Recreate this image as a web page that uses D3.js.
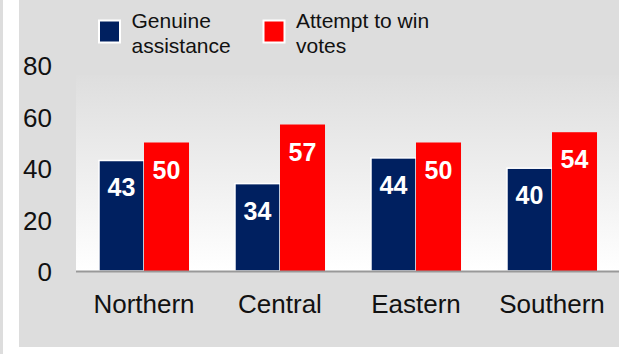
<!DOCTYPE html>
<html><head><meta charset="utf-8">
<script src="https://cdn.jsdelivr.net/npm/d3@7"></script>
<style>
html,body{margin:0;padding:0;background:#fff;}
svg{display:block;font-family:"Liberation Sans",Arial,sans-serif;}
</style></head>
<body>
<script>
const categories = ["Northern","Central","Eastern","Southern"];
const seriesNames = ["Genuine assistance","Attempt to win votes"];
const genuine = [43,34,44,40];
const attempt = [50,57,50,54];
const yTicks = [0,20,40,60,80];
const legendLines = [["Genuine","assistance"],["Attempt to win","votes"]];
const colors = ["#002060","#ff0000"];
</script>
<script>
const W = 619, H = 354;
const svg = d3.select("body").append("svg").attr("width", W).attr("height", H);

// backgrounds
svg.append("rect").attr("x",0).attr("y",0).attr("width",W).attr("height",H).attr("fill","#ffffff");
svg.append("rect").attr("x",0).attr("y",0).attr("width",3).attr("height",H).attr("fill","#dddddd");
svg.append("rect").attr("x",19).attr("y",0).attr("width",W-19).attr("height",347).attr("fill","#dddddd");

const defs = svg.append("defs");
const grad = defs.append("linearGradient").attr("id","pg").attr("x1",0).attr("y1",0).attr("x2",0).attr("y2",1);
grad.append("stop").attr("offset","0%").attr("stop-color","#dedede");
grad.append("stop").attr("offset","100%").attr("stop-color","#ffffff");

const x0 = 76, x1p = 620, yBase = 271;
const y = d3.scaleLinear().domain([0,80]).range([yBase, yBase - 80*2.57]);

svg.append("rect").attr("x",x0).attr("y",y(80)+10).attr("width",W-x0).attr("height",yBase-(y(80)+10)).attr("fill","url(#pg)");

const xb = d3.scaleBand().domain(categories).range([x0,x1p]).paddingInner(0.338).paddingOuter(0.169);
const xs = d3.scaleBand().domain([0,1]).range([0, xb.bandwidth()]);

const data = categories.map((c,i)=>({c, v:[genuine[i], attempt[i]]}));

const g = svg.append("g").selectAll("g").data(data).join("g")
  .attr("transform", d=>`translate(${xb(d.c)},0)`);

g.selectAll("rect").data(d=>d.v.map((v,k)=>({v,k}))).join("rect")
  .attr("x", d=>xs(d.k))
  .attr("y", d=>y(d.v))
  .attr("width", xs.bandwidth())
  .attr("height", d=>yBase - y(d.v))
  .attr("fill", d=>colors[d.k])
  .attr("stroke", d=>d.k===0 ? "#ffffff" : "none")
  .attr("stroke-width", 1.5);

g.selectAll("text").data(d=>d.v.map((v,k)=>({v,k}))).join("text")
  .attr("x", d=>xs(d.k)+xs.bandwidth()/2)
  .attr("y", d=>y(d.v)+36)
  .attr("text-anchor","middle")
  .attr("fill","#ffffff")
  .attr("font-weight","bold")
  .attr("font-size",25)
  .text(d=>d.v);

// axis baseline
svg.append("line").attr("x1",x0).attr("x2",W).attr("y1",yBase+0.5).attr("y2",yBase+0.5)
  .attr("stroke","#999999").attr("stroke-width",2);

// y ticks
svg.append("g").selectAll("text").data(yTicks).join("text")
  .attr("x",52).attr("y",d=>y(d)+10)
  .attr("text-anchor","end").attr("font-size",26).attr("fill","#111")
  .text(d=>d);

// x labels
svg.append("g").selectAll("text").data(categories).join("text")
  .attr("x",d=>xb(d)+xb.bandwidth()/2).attr("y",313)
  .attr("text-anchor","middle").attr("font-size",26).attr("fill","#111")
  .text(d=>d);

// legend
const legX = [98, 262.5];
const lg = svg.append("g").selectAll("g").data(seriesNames).join("g")
  .attr("transform",(d,i)=>`translate(${legX[i]},0)`);
lg.append("rect").attr("x",1).attr("y",20.5).attr("width",21).attr("height",22)
  .attr("fill",(d,i)=>colors[i]).attr("stroke","#ffffff").attr("stroke-width",2);
lg.append("text").attr("font-size",21).attr("fill","#111")
  .selectAll("tspan").data((d,i)=>legendLines[i]).join("tspan")
  .attr("x",33.5).attr("y",(d,j)=>27.5+j*25).text(d=>d);
</script>
</body></html>
